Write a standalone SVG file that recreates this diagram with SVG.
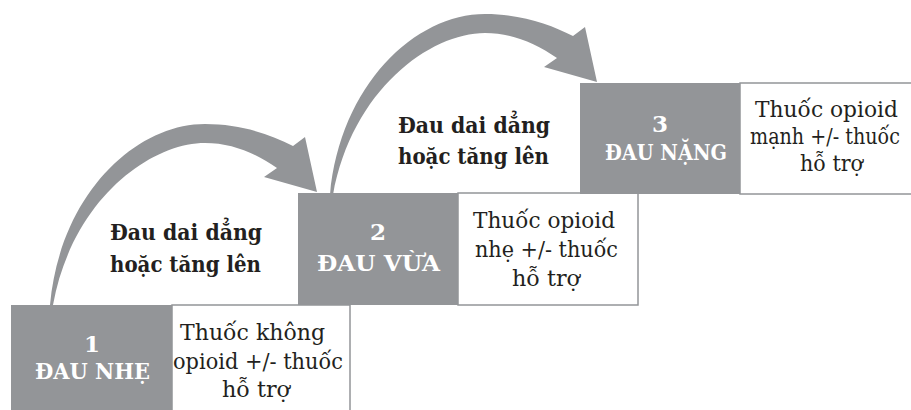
<svg xmlns="http://www.w3.org/2000/svg" xmlns:xlink="http://www.w3.org/1999/xlink" width="911" height="410" viewBox="0 0 911 410">
  <style>
    .gray { fill: #939598; }
    .desc-box { fill: #ffffff; stroke: #939598; stroke-width: 1.5; }
    text { font-family: 'DejaVu Serif', serif; }
    .title { font-weight: bold; font-size: 23px; fill: #ffffff; }
    .num { text-anchor: middle; }
    .desc { font-size: 23px; fill: #231f20; }
    .label { font-weight: bold; font-size: 23px; fill: #231f20; }
    .arrow { fill: #939598; }
  </style>
  <defs>
    <path id="curved-arrow" class="arrow" d="M 50,305 C 60,195 135,124 205,124 C 240,124 270,134 293,146 L 305,137 L 317,192 L 264,177 L 277,168 C 255,153 232,143 205,143 C 150,143 72,200 53,305 Z"/>
  </defs>
  <rect width="911" height="410" fill="#ffffff"/>

  <g id="connectors">
    <use xlink:href="#curved-arrow" href="#curved-arrow"/>
    <use xlink:href="#curved-arrow" href="#curved-arrow" transform="translate(280,-110)"/>
    <text class="label" x="110" y="240" textLength="152" lengthAdjust="spacingAndGlyphs">Đau dai dẳng</text>
    <text class="label" x="110" y="272" textLength="151" lengthAdjust="spacingAndGlyphs">hoặc tăng lên</text>
    <text class="label" x="398" y="133" textLength="152" lengthAdjust="spacingAndGlyphs">Đau dai dẳng</text>
    <text class="label" x="398" y="164" textLength="151" lengthAdjust="spacingAndGlyphs">hoặc tăng lên</text>
  </g>

  <g id="step1">
    <rect class="desc-box" x="172" y="305" width="178" height="110"/>
    <rect class="gray" x="11" y="305" width="161" height="110"/>
    <text class="title num" x="92" y="352">1</text>
    <text class="title" x="35" y="379" textLength="115" lengthAdjust="spacingAndGlyphs">ĐAU NHẸ</text>
    <text class="desc" x="180" y="340" textLength="145" lengthAdjust="spacingAndGlyphs">Thuốc không</text>
    <text class="desc" x="173" y="369" textLength="170" lengthAdjust="spacingAndGlyphs">opioid +/- thuốc</text>
    <text class="desc" x="222" y="397" textLength="68" lengthAdjust="spacingAndGlyphs">hỗ trợ</text>
  </g>

  <g id="step2">
    <rect class="desc-box" x="458" y="193" width="180" height="112"/>
    <rect class="gray" x="298" y="193" width="160" height="112"/>
    <text class="title num" x="378" y="240">2</text>
    <text class="title" x="317" y="271" textLength="123" lengthAdjust="spacingAndGlyphs">ĐAU VỪA</text>
    <text class="desc" x="473" y="228" textLength="142" lengthAdjust="spacingAndGlyphs">Thuốc opioid</text>
    <text class="desc" x="475" y="257" textLength="143" lengthAdjust="spacingAndGlyphs">nhẹ +/- thuốc</text>
    <text class="desc" x="512" y="286" textLength="68" lengthAdjust="spacingAndGlyphs">hỗ trợ</text>
  </g>

  <g id="step3">
    <rect class="desc-box" x="740" y="83" width="180" height="111"/>
    <rect class="gray" x="580" y="83" width="160" height="111"/>
    <text class="title num" x="660" y="132">3</text>
    <text class="title" x="605" y="160" textLength="122" lengthAdjust="spacingAndGlyphs">ĐAU NẶNG</text>
    <text class="desc" x="755" y="117" textLength="143" lengthAdjust="spacingAndGlyphs">Thuốc opioid</text>
    <text class="desc" x="750" y="144" textLength="150" lengthAdjust="spacingAndGlyphs">mạnh +/- thuốc</text>
    <text class="desc" x="800" y="171" textLength="63" lengthAdjust="spacingAndGlyphs">hỗ trợ</text>
  </g>
</svg>
